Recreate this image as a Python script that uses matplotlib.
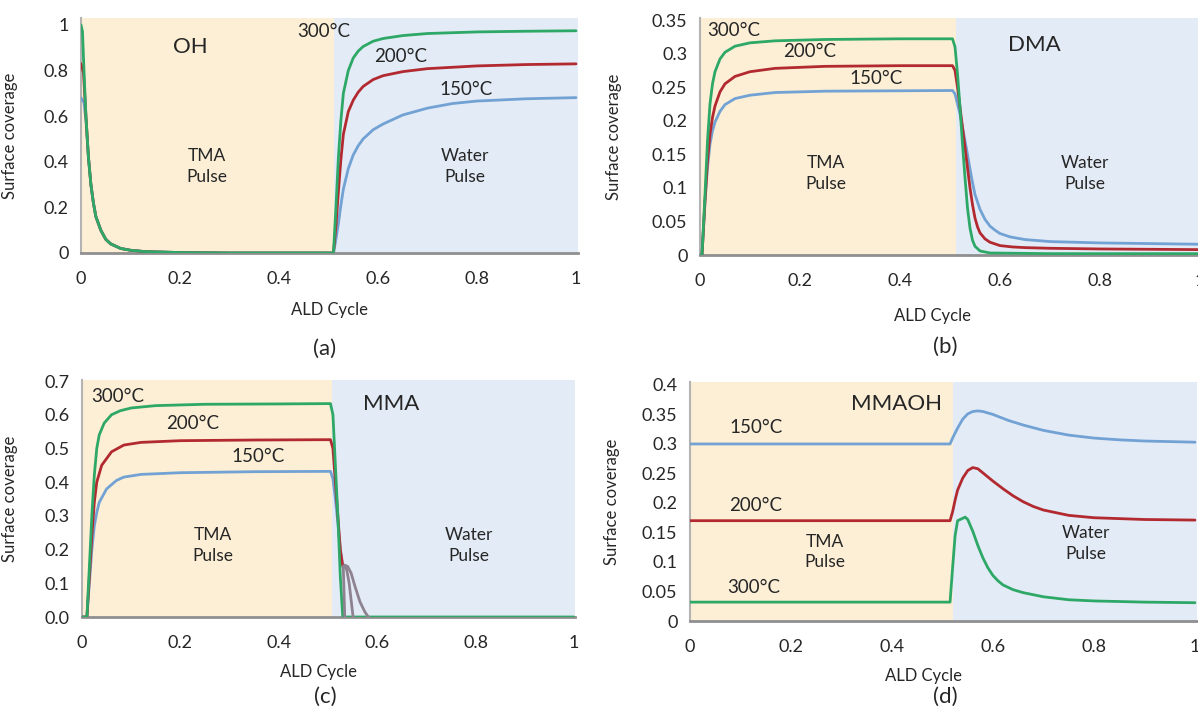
import numpy as np
import matplotlib
matplotlib.use('Agg')
import matplotlib.pyplot as plt

plt.rcParams['font.family'] = ['Lato', 'DejaVu Sans']

# ---- panel (a): OH ----
a_x_green = [0, 0.003, 0.006, 0.01, 0.015, 0.02, 0.025, 0.03, 0.04, 0.05, 0.06, 0.08, 0.1, 0.13, 0.2, 0.3,
             0.51, 0.515, 0.52, 0.525, 0.53, 0.54, 0.55, 0.56, 0.57, 0.59, 0.61, 0.65, 0.7, 0.8, 0.9, 1.0]
a_y_green = [1.0, 0.97, 0.8, 0.6, 0.42, 0.3, 0.22, 0.16, 0.1, 0.06, 0.04, 0.02, 0.012, 0.006, 0.002, 0.0,
             0.0, 0.2, 0.42, 0.58, 0.7, 0.8, 0.855, 0.885, 0.905, 0.928, 0.94, 0.953, 0.962, 0.969, 0.972, 0.974]
a_x_red = [0, 0.005, 0.01, 0.015, 0.02, 0.025, 0.03, 0.04, 0.05, 0.06, 0.08, 0.1, 0.13, 0.2, 0.3,
           0.51, 0.515, 0.52, 0.525, 0.53, 0.54, 0.55, 0.56, 0.57, 0.59, 0.61, 0.65, 0.7, 0.8, 0.9, 1.0]
a_y_red = [0.83, 0.79, 0.6, 0.42, 0.3, 0.22, 0.16, 0.1, 0.06, 0.04, 0.02, 0.012, 0.006, 0.002, 0.0,
           0.0, 0.12, 0.27, 0.41, 0.52, 0.62, 0.67, 0.705, 0.73, 0.76, 0.777, 0.795, 0.808, 0.82, 0.826, 0.829]
a_x_blue = [0, 0.006, 0.01, 0.015, 0.02, 0.025, 0.03, 0.04, 0.05, 0.06, 0.08, 0.1, 0.13, 0.2, 0.3,
            0.51, 0.515, 0.52, 0.525, 0.53, 0.54, 0.55, 0.56, 0.57, 0.59, 0.61, 0.65, 0.7, 0.75, 0.8, 0.9, 1.0]
a_y_blue = [0.68, 0.66, 0.58, 0.42, 0.3, 0.22, 0.16, 0.1, 0.06, 0.04, 0.02, 0.012, 0.006, 0.002, 0.0,
            0.0, 0.06, 0.13, 0.21, 0.28, 0.37, 0.43, 0.47, 0.5, 0.54, 0.565, 0.605, 0.635, 0.655, 0.666, 0.676, 0.681]

# ---- panel (b): DMA ----
b_x_green = [0, 0.004, 0.01, 0.015, 0.02, 0.025, 0.03, 0.04, 0.05, 0.07, 0.1, 0.15, 0.25, 0.4, 0.505,
             0.51, 0.515, 0.52, 0.525, 0.53, 0.535, 0.54, 0.545, 0.55, 0.56, 0.58, 0.7, 1.0]
b_y_green = [0, 0, 0.09, 0.17, 0.225, 0.255, 0.273, 0.292, 0.302, 0.311, 0.316, 0.319, 0.321, 0.322, 0.322,
             0.31, 0.27, 0.22, 0.165, 0.115, 0.07, 0.04, 0.022, 0.013, 0.006, 0.003, 0.002, 0.002]
b_x_red = [0, 0.004, 0.01, 0.015, 0.02, 0.025, 0.03, 0.04, 0.05, 0.07, 0.1, 0.15, 0.25, 0.4, 0.505,
           0.51, 0.515, 0.52, 0.525, 0.53, 0.535, 0.54, 0.545, 0.55, 0.555, 0.56, 0.57, 0.58, 0.6, 0.625, 0.65, 0.7, 0.8, 1.0]
b_y_red = [0, 0, 0.08, 0.14, 0.18, 0.205, 0.222, 0.243, 0.255, 0.266, 0.273, 0.278, 0.281, 0.282, 0.282,
           0.275, 0.25, 0.22, 0.19, 0.16, 0.13, 0.1, 0.075, 0.055, 0.042, 0.033, 0.024, 0.019, 0.014, 0.012, 0.011, 0.01, 0.009, 0.008]
b_x_blue = [0, 0.004, 0.01, 0.015, 0.02, 0.025, 0.03, 0.04, 0.05, 0.07, 0.1, 0.15, 0.25, 0.505,
            0.51, 0.515, 0.52, 0.525, 0.53, 0.535, 0.54, 0.545, 0.55, 0.56, 0.57, 0.58, 0.59, 0.6, 0.62, 0.65, 0.7, 0.8, 0.9, 1.0]
b_y_blue = [0, 0, 0.08, 0.13, 0.165, 0.185, 0.198, 0.214, 0.224, 0.233, 0.238, 0.242, 0.244, 0.245,
            0.24, 0.225, 0.21, 0.19, 0.17, 0.15, 0.128, 0.108, 0.09, 0.068, 0.053, 0.043, 0.037, 0.032, 0.027, 0.023, 0.02, 0.018, 0.017, 0.016]

# ---- panel (c): MMA ----
c_x_green = [0, 0.01, 0.015, 0.02, 0.025, 0.03, 0.035, 0.045, 0.06, 0.078, 0.1, 0.15, 0.25, 0.4, 0.505,
             0.51, 0.515, 0.52, 0.525, 0.53, 1.0]
c_y_green = [0, 0, 0.15, 0.3, 0.42, 0.5, 0.54, 0.575, 0.6, 0.612, 0.62, 0.627, 0.631, 0.632, 0.633,
             0.6, 0.45, 0.3, 0.12, 0.0, 0.0]
c_x_red = [0, 0.01, 0.015, 0.02, 0.025, 0.03, 0.04, 0.06, 0.085, 0.12, 0.2, 0.35, 0.505,
           0.51, 0.515, 0.52, 0.525, 0.53]
c_y_red = [0, 0, 0.12, 0.24, 0.34, 0.4, 0.45, 0.49, 0.51, 0.518, 0.523, 0.525, 0.526,
           0.5, 0.4, 0.3, 0.2, 0.15]
c_x_blue = [0, 0.01, 0.015, 0.02, 0.025, 0.03, 0.035, 0.05, 0.07, 0.085, 0.12, 0.2, 0.35, 0.505,
            0.51, 0.515, 0.52, 0.525, 0.53]
c_y_blue = [0, 0, 0.1, 0.2, 0.27, 0.31, 0.34, 0.38, 0.405, 0.415, 0.423, 0.428, 0.431, 0.432,
            0.41, 0.35, 0.28, 0.2, 0.15]
# grey tails at the end of the drop
c_tails_x = [[0.531, 0.532, 0.533, 0.534],
             [0.533, 0.538, 0.543, 0.547, 0.551],
             [0.535, 0.54, 0.547, 0.555, 0.565, 0.575, 0.582]]
c_tails_y = [[0.15, 0.1, 0.05, 0.0],
             [0.152, 0.14, 0.1, 0.05, 0.0],
             [0.153, 0.15, 0.13, 0.09, 0.045, 0.015, 0.0]]

# ---- panel (d): MMAOH ----
d_x_blue = [0, 0.515, 0.52, 0.53, 0.54, 0.55, 0.56, 0.57, 0.58, 0.6, 0.63, 0.66, 0.7, 0.75, 0.8, 0.85, 0.9, 1.0]
d_y_blue = [0.3, 0.3, 0.31, 0.327, 0.342, 0.351, 0.355, 0.356, 0.355, 0.35, 0.34, 0.332, 0.323, 0.315, 0.31, 0.307, 0.305, 0.303]
d_x_red = [0, 0.515, 0.52, 0.525, 0.53, 0.54, 0.55, 0.56, 0.57, 0.58, 0.59, 0.6, 0.62, 0.64, 0.66, 0.68, 0.7, 0.75, 0.8, 0.9, 1.0]
d_y_red = [0.17, 0.17, 0.185, 0.205, 0.222, 0.242, 0.255, 0.26, 0.258, 0.251, 0.244, 0.237, 0.224, 0.212, 0.202, 0.194, 0.188, 0.179, 0.175, 0.172, 0.171]
d_x_green = [0, 0.515, 0.52, 0.525, 0.53, 0.54, 0.545, 0.55, 0.56, 0.57, 0.58, 0.59, 0.6, 0.61, 0.62, 0.64, 0.66, 0.7, 0.75, 0.8, 0.9, 1.0]
d_y_green = [0.032, 0.032, 0.09, 0.145, 0.17, 0.174, 0.176, 0.172, 0.152, 0.128, 0.107, 0.09, 0.077, 0.068, 0.061, 0.053, 0.048, 0.041, 0.036, 0.034, 0.032, 0.031]

xticks = [0, 0.2, 0.4, 0.6, 0.8, 1.0]
xtick_labels = ['0', '0.2', '0.4', '0.6', '0.8', '1']

GREEN, RED, BLUE = '#2ea867', '#b22a30', '#72a2d4'
TAN, SKY = '#fcefd6', '#e3ebf6'
TXT = '#262626'


def setupAxes(ax, xmax, ymax, split, yticks, ylabels):
  ax.axvspan(0, split, color=TAN, lw=0, zorder=0)
  ax.axvspan(split, xmax, color=SKY, lw=0, zorder=0)
  ax.set_xlim(0, xmax)
  ax.set_ylim(0, ymax)
  ax.set_xticks(xticks)
  ax.set_xticklabels(xtick_labels)
  ax.set_yticks(yticks)
  ax.set_yticklabels(ylabels)
  ax.tick_params(length=0, labelsize=13, colors=TXT)
  ax.tick_params(axis='x', pad=13)
  ax.tick_params(axis='y', pad=9)
  for s in ['top', 'right']:
    ax.spines[s].set_visible(False)
  ax.spines['left'].set_color('#b3b3b3')
  ax.spines['left'].set_linewidth(1.5)
  ax.spines['bottom'].set_color('#8f8f8f')
  ax.spines['bottom'].set_linewidth(2)
  ax.set_facecolor('white')


def labels(ax, xl, yl):
  ax.set_xlabel('ALD Cycle', fontsize=12, color=TXT)
  ax.xaxis.set_label_coords(*xl)
  ax.set_ylabel('Surface coverage', fontsize=12, color=TXT)
  ax.yaxis.set_label_coords(*yl)


def curves(ax, data):
  for x, y, c in data:
    ax.plot(x, y, color=c, lw=2, solid_capstyle='round', zorder=3)


W, H = 1198, 711
fig = plt.figure(figsize=(W / 100, H / 100), dpi=100)

def pxAxes(left, right, bottom, top):
  return fig.add_axes([left / W, 1 - bottom / H, (right - left) / W, (bottom - top) / H])

T = dict(fontsize=13.5, color=TXT, ha='center', va='center')
P = dict(fontsize=12.5, color=TXT, ha='center', va='center', linespacing=1.35)
N = dict(fontsize=16, color=TXT, ha='center', va='center')

# (a)
ax = pxAxes(81, 578, 253, 18)
setupAxes(ax, 1.004, 1.03, 0.512, [0, 0.2, 0.4, 0.6, 0.8, 1.0], ['0', '0.2', '0.4', '0.6', '0.8', '1'])
curves(ax, [(a_x_blue, a_y_blue, BLUE), (a_x_red, a_y_red, RED), (a_x_green, a_y_green, GREEN)])
ax.text(0.22, 0.905, 'OH', **N)
ax.text(0.49, 0.97, '300°C', **T)
ax.text(0.645, 0.86, '200°C', **T)
ax.text(0.778, 0.715, '150°C', **T)
ax.text(0.255, 0.38, 'TMA\nPulse', **P)
ax.text(0.775, 0.38, 'Water\nPulse', **P)
labels(ax, (0.5, -0.21), (-0.127, 0.5))

# (b)
ax = pxAxes(700, 1200, 255, 18)
setupAxes(ax, 1.0, 0.353, 0.512, [0, 0.05, 0.1, 0.15, 0.2, 0.25, 0.3, 0.35],
          ['0', '0.05', '0.1', '0.15', '0.2', '0.25', '0.3', '0.35'])
curves(ax, [(b_x_blue, b_y_blue, BLUE), (b_x_red, b_y_red, RED), (b_x_green, b_y_green, GREEN)])
ax.text(0.668, 0.313, 'DMA', **N)
ax.text(0.068, 0.335, '300°C', **T)
ax.text(0.22, 0.303, '200°C', **T)
ax.text(0.352, 0.263, '150°C', **T)
ax.text(0.252, 0.121, 'TMA\nPulse', **P)
ax.text(0.77, 0.121, 'Water\nPulse', **P)
labels(ax, (0.464, -0.225), (-0.156, 0.5))

# (c)
ax = pxAxes(82, 575, 617, 380)
setupAxes(ax, 1.002, 0.703, 0.508, [0, 0.1, 0.2, 0.3, 0.4, 0.5, 0.6, 0.7],
          ['0.0', '0.1', '0.2', '0.3', '0.4', '0.5', '0.6', '0.7'])
curves(ax, [(c_x_blue, c_y_blue, BLUE), (c_x_red, c_y_red, RED), (c_x_green, c_y_green, GREEN)])
for tx, ty in zip(c_tails_x, c_tails_y):
  ax.plot(tx, ty, color='#8e8290', lw=2, zorder=3)
ax.text(0.628, 0.632, 'MMA', **N)
ax.text(0.072, 0.655, '300°C', **T)
ax.text(0.225, 0.575, '200°C', **T)
ax.text(0.357, 0.475, '150°C', **T)
ax.text(0.265, 0.212, 'TMA\nPulse', **P)
ax.text(0.787, 0.212, 'Water\nPulse', **P)
labels(ax, (0.48, -0.2), (-0.13, 0.5))

# (d)
ax = pxAxes(690, 1197, 621, 382)
setupAxes(ax, 1.004, 0.405, 0.521, [0, 0.05, 0.1, 0.15, 0.2, 0.25, 0.3, 0.35, 0.4],
          ['0', '0.05', '0.1', '0.15', '0.2', '0.25', '0.3', '0.35', '0.4'])
curves(ax, [(d_x_blue, d_y_blue, BLUE), (d_x_red, d_y_red, RED), (d_x_green, d_y_green, GREEN)])
ax.text(0.408, 0.367, 'MMAOH', **N)
ax.text(0.13, 0.328, '150°C', **T)
ax.text(0.13, 0.195, '200°C', **T)
ax.text(0.126, 0.057, '300°C', **T)
ax.text(0.267, 0.117, 'TMA\nPulse', **P)
ax.text(0.784, 0.131, 'Water\nPulse', **P)
labels(ax, (0.46, -0.198), (-0.138, 0.5))

# panel letters
for lab, px, py in [('(a)', 325, 349), ('(b)', 945, 347), ('(c)', 325, 697), ('(d)', 945, 697)]:
  fig.text(px / W, 1 - py / H, lab, fontsize=16, color=TXT, ha='center', va='center')

fig.savefig('out.png', dpi=100)
